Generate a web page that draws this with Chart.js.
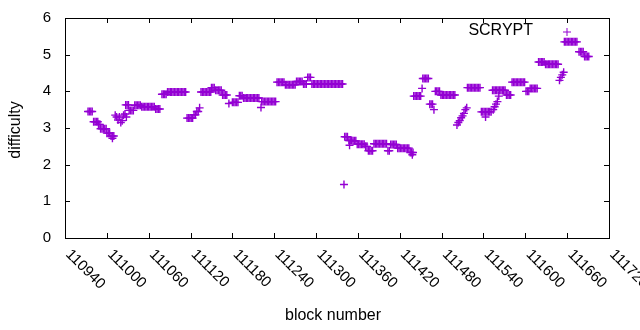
<!DOCTYPE html>
<html>
<head>
<meta charset="utf-8">
<script src="https://cdn.jsdelivr.net/npm/chart.js@4/dist/chart.umd.min.js"></script>
<style>
  body { margin: 0; background: #fff; }
</style>
</head>
<body>
<canvas id="difficultyChart" width="640" height="330"></canvas>
<script>
const seriesName = 'SCRYPT';
const xTicks = [110940, 111000, 111060, 111120, 111180, 111240, 111300, 111360, 111420, 111480, 111540, 111600, 111660, 111720];
const yTicks = [0, 1, 2, 3, 4, 5, 6];

// block numbers, one line per run of equal difficulty
const blockNumbers = [
    110973, 110975, 110977, 110979,
    110981, 110983, 110985, 110987,
    110988, 110990,
    110991, 110993, 110995, 110997, 110999,
    111000, 111002, 111004,
    111006, 111008, 111008, 111010,
    111012, 111014, 111016, 111018, 111020, 111022, 111024, 111026, 111028,
    111027, 111029, 111031,
    111032, 111034, 111036, 111038,
    111040, 111042, 111044, 111046, 111048,
    111050, 111052, 111054, 111056, 111058, 111060, 111062, 111064, 111066, 111068,
    111070, 111072, 111074, 111076,
    111079, 111081, 111083, 111085,
    111087, 111089, 111091, 111093, 111095, 111097, 111099, 111101, 111103, 111105, 111107, 111109, 111111, 111113,
    111115, 111117, 111119, 111121, 111123,
    111125, 111127,
    111129, 111131,
    111133,
    111135, 111137, 111139, 111141, 111143, 111145, 111147, 111149,
    111150, 111152, 111154,
    111156, 111158, 111160, 111162, 111164,
    111166, 111168, 111170, 111172,
    111175,
    111180, 111182, 111184, 111186, 111188,
    111190, 111192, 111194,
    111196, 111198, 111200, 111202, 111204, 111206, 111208, 111210, 111212, 111214, 111216, 111218,
    111221,
    111222, 111224, 111226, 111228, 111230, 111232, 111234, 111236, 111238, 111240, 111242,
    111244, 111246, 111248, 111250, 111252, 111254,
    111256, 111258, 111260, 111262, 111264, 111266, 111268, 111270,
    111272, 111274, 111276, 111278, 111280,
    111282, 111284, 111286,
    111288, 111290, 111292,
    111294, 111296, 111298, 111300, 111302, 111304, 111306, 111308, 111310, 111312, 111314, 111316,
    111318, 111320, 111322, 111324, 111326, 111328, 111330, 111332, 111334, 111336, 111338,
    111340,
    111341, 111343, 111345,
    111347, 111349, 111351, 111348,
    111353, 111355, 111357,
    111359, 111361, 111363, 111365, 111367, 111369,
    111371, 111373,
    111375, 111377, 111379, 111381,
    111383, 111385, 111387, 111389, 111391, 111393, 111395, 111397, 111399, 111401,
    111403, 111405,
    111407, 111409, 111411, 111413, 111415,
    111417, 111419, 111421, 111423, 111425, 111427, 111429, 111431, 111433,
    111435, 111437, 111439, 111438,
    111440, 111442, 111444, 111446, 111448, 111450,
    111452,
    111453, 111455, 111457, 111459, 111461,
    111463, 111465, 111467, 111469,
    111471, 111473, 111475, 111477,
    111479, 111481, 111483, 111485, 111487, 111489, 111491, 111493, 111495, 111497, 111499,
    111502, 111504, 111506, 111508, 111510, 111512, 111514, 111516,
    111517, 111519, 111521, 111523, 111525, 111527, 111529, 111531, 111533, 111535,
    111537, 111539, 111541, 111543, 111545, 111547, 111549, 111551, 111543,
    111554, 111556, 111558, 111560,
    111553, 111555, 111557, 111559, 111561, 111563, 111565, 111567, 111569, 111571,
    111562,
    111573, 111575, 111577, 111579,
    111581, 111583, 111585, 111587, 111589, 111591, 111593, 111595, 111597, 111599,
    111601, 111603, 111605,
    111607, 111609, 111611, 111613, 111615, 111617,
    111619, 111621, 111623, 111625, 111627,
    111629, 111631, 111633, 111635, 111637, 111639, 111641, 111643, 111645, 111647,
    111649, 111651, 111653, 111655,
    111656, 111658, 111660, 111662, 111664, 111666, 111668, 111670, 111672, 111674,
    111677, 111679, 111681, 111683,
    111685, 111687, 111689, 111691
];

const difficulty = [
    3.45, 3.45, 3.45, 3.45,
    3.17, 3.17, 3.17, 3.17,
    3.10, 3.10,
    2.98, 2.98, 2.98, 2.98, 2.98,
    2.86, 2.86, 2.86,
    2.78, 2.78, 2.72, 2.78,
    3.35, 3.30, 3.22, 3.30, 3.15, 3.20, 3.35, 3.38, 3.30,
    3.63, 3.63, 3.63,
    3.48, 3.48, 3.48, 3.48,
    3.62, 3.62, 3.62, 3.62, 3.62,
    3.58, 3.58, 3.58, 3.58, 3.58, 3.58, 3.58, 3.58, 3.58, 3.58,
    3.52, 3.52, 3.52, 3.52,
    3.92, 3.92, 3.92, 3.92,
    3.98, 3.98, 3.98, 3.98, 3.98, 3.98, 3.98, 3.98, 3.98, 3.98, 3.98, 3.98, 3.98, 3.98,
    3.27, 3.27, 3.27, 3.27, 3.27,
    3.36, 3.36,
    3.45, 3.45,
    3.55,
    3.98, 3.98, 3.98, 3.98, 3.98, 3.98, 3.98, 3.98,
    4.10, 4.10, 4.10,
    4.03, 4.03, 4.03, 4.03, 4.03,
    3.90, 3.90, 3.90, 3.90,
    3.67,
    3.70, 3.70, 3.70, 3.70, 3.70,
    3.88, 3.88, 3.88,
    3.82, 3.82, 3.82, 3.82, 3.82, 3.82, 3.82, 3.82, 3.82, 3.82, 3.82, 3.82,
    3.56,
    3.72, 3.72, 3.72, 3.72, 3.72, 3.72, 3.72, 3.72, 3.72, 3.72, 3.72,
    4.25, 4.25, 4.25, 4.25, 4.25, 4.25,
    4.18, 4.18, 4.18, 4.18, 4.18, 4.18, 4.18, 4.18,
    4.27, 4.27, 4.27, 4.27, 4.27,
    4.20, 4.20, 4.20,
    4.38, 4.38, 4.38,
    4.20, 4.20, 4.20, 4.20, 4.20, 4.20, 4.20, 4.20, 4.20, 4.20, 4.20, 4.20,
    4.20, 4.20, 4.20, 4.20, 4.20, 4.20, 4.20, 4.20, 4.20, 4.20, 4.20,
    1.46,
    2.76, 2.76, 2.76,
    2.66, 2.66, 2.66, 2.53,
    2.65, 2.65, 2.65,
    2.56, 2.56, 2.56, 2.56, 2.56, 2.56,
    2.50, 2.50,
    2.38, 2.38, 2.38, 2.38,
    2.57, 2.57, 2.57, 2.57, 2.57, 2.57, 2.57, 2.57, 2.57, 2.57,
    2.38, 2.38,
    2.55, 2.55, 2.55, 2.55, 2.55,
    2.45, 2.45, 2.45, 2.45, 2.45, 2.45, 2.45, 2.45, 2.45,
    2.33, 2.33, 2.33, 2.27,
    3.87, 3.87, 3.87, 3.87, 3.87, 3.87,
    4.08,
    4.35, 4.35, 4.35, 4.35, 4.35,
    3.65, 3.65, 3.65, 3.50,
    4.00, 4.00, 4.00, 4.00,
    3.90, 3.90, 3.90, 3.90, 3.90, 3.90, 3.90, 3.90, 3.90, 3.90, 3.90,
    3.08, 3.15, 3.20, 3.28, 3.33, 3.40, 3.50, 3.55,
    4.10, 4.10, 4.10, 4.10, 4.10, 4.10, 4.10, 4.10, 4.10, 4.10,
    3.44, 3.44, 3.44, 3.44, 3.44, 3.44, 3.44, 3.44, 3.30,
    3.50, 3.58, 3.65, 3.72,
    4.03, 4.03, 4.03, 4.03, 4.03, 4.03, 4.03, 4.03, 4.03, 4.03,
    3.87,
    3.90, 3.90, 3.90, 3.90,
    4.25, 4.25, 4.25, 4.25, 4.25, 4.25, 4.25, 4.25, 4.25, 4.25,
    4.00, 4.00, 4.00,
    4.08, 4.08, 4.08, 4.08, 4.08, 4.08,
    4.80, 4.80, 4.80, 4.80, 4.80,
    4.74, 4.74, 4.74, 4.74, 4.74, 4.74, 4.74, 4.74, 4.74, 4.74,
    4.30, 4.38, 4.45, 4.52,
    5.35, 5.35, 5.35, 5.35, 5.35, 5.35, 5.35, 5.35, 5.35, 5.35,
    5.08, 5.08, 5.08, 5.08,
    4.95, 4.95, 4.95, 4.95
];

const purple = '#9400d3';
const tickFont = '15px "Liberation Sans", Arial, sans-serif';
const titleFont = '16px "Liberation Sans", Arial, sans-serif';

// gnuplot-like frame: box, inward ticks, rotated x labels, key
const gnuplotFrame = {
    id: 'gnuplotFrame',
    afterDraw(chart) {
        const { ctx, chartArea: a, scales: { x, y } } = chart;
        ctx.save();
        ctx.strokeStyle = '#000';
        ctx.lineWidth = 1;
        ctx.strokeRect(a.left + 0.5, a.top + 0.5, a.right - a.left, a.bottom - a.top);

        ctx.beginPath();
        xTicks.forEach(v => {
            const px = Math.round(x.getPixelForValue(v)) + 0.5;
            ctx.moveTo(px, a.bottom); ctx.lineTo(px, a.bottom - 5);
            ctx.moveTo(px, a.top); ctx.lineTo(px, a.top + 5);
        });
        yTicks.forEach(v => {
            const py = Math.round(y.getPixelForValue(v)) + 0.5;
            ctx.moveTo(a.left, py); ctx.lineTo(a.left + 5, py);
            ctx.moveTo(a.right, py); ctx.lineTo(a.right - 5, py);
        });
        ctx.stroke();

        ctx.fillStyle = '#000';
        ctx.font = tickFont;
        ctx.textAlign = 'right';
        ctx.textBaseline = 'middle';
        yTicks.forEach(v => {
            ctx.fillText(String(v), a.left - 14, y.getPixelForValue(v));
        });

        ctx.textAlign = 'left';
        xTicks.forEach(v => {
            ctx.save();
            ctx.translate(x.getPixelForValue(v) + 3, a.bottom + 14);
            ctx.rotate(Math.PI / 4);
            ctx.fillText(String(v), 0, 0);
            ctx.restore();
        });

        ctx.font = titleFont;
        ctx.textAlign = 'center';
        ctx.fillText('block number', (a.left + a.right) / 2 - 4, 316);
        ctx.save();
        ctx.translate(16, (a.top + a.bottom) / 2 + 2);
        ctx.rotate(-Math.PI / 2);
        ctx.fillText('difficulty', 0, 0);
        ctx.restore();

        // key
        ctx.textAlign = 'right';
        ctx.fillText(seriesName, 533, 31);
        ctx.strokeStyle = purple;
        ctx.beginPath();
        ctx.moveTo(563, 32); ctx.lineTo(571, 32);
        ctx.moveTo(567, 28); ctx.lineTo(567, 36);
        ctx.stroke();
        ctx.restore();
    }
};

const ctx = document.getElementById('difficultyChart').getContext('2d');

new Chart(ctx, {
    type: 'scatter',
    data: {
        datasets: [{
            label: seriesName,
            data: blockNumbers.map((b, i) => ({ x: b, y: difficulty[i] })),
            pointStyle: 'cross',
            pointRadius: 4,
            borderWidth: 1.4,
            borderColor: purple,
            backgroundColor: purple
        }]
    },
    options: {
        responsive: false,
        animation: false,
        layout: { padding: { left: 65, right: 31, top: 18, bottom: 92 } },
        scales: {
            x: { type: 'linear', min: 110940, max: 111720, display: false },
            y: { min: 0, max: 6, display: false }
        },
        plugins: {
            legend: { display: false },
            tooltip: { enabled: false }
        }
    },
    plugins: [gnuplotFrame]
});
</script>
</body>
</html>
